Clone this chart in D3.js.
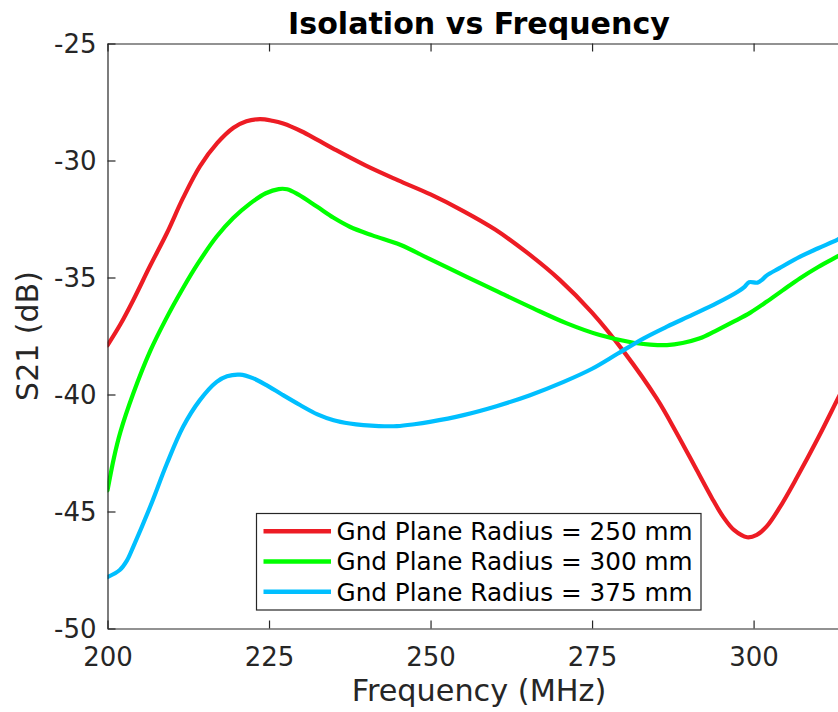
<!DOCTYPE html>
<html>
<head>
<meta charset="utf-8">
<script src="https://cdn.jsdelivr.net/npm/d3@7"></script>
<style>
  html, body { margin: 0; padding: 0; background: #fff; }
  svg { display: block; }
</style>
</head>
<body>
<svg id="chart" width="838" height="712"></svg>
<script>
// ---------------- data ----------------
const title = "Isolation vs Frequency";
const xLabel = "Frequency (MHz)";
const yLabel = "S21 (dB)";
const xTicks = [200, 225, 250, 275, 300];
const yTicks = [-50, -45, -40, -35, -30, -25];
const xTickLabels = ["200", "225", "250", "275", "300"];
const yTickLabels = ["-50", "-45", "-40", "-35", "-30", "-25"];
const seriesNames = ["Gnd Plane Radius = 250 mm", "Gnd Plane Radius = 300 mm", "Gnd Plane Radius = 375 mm"];
const seriesColors = ["#ED1C24", "#00FF00", "#00BFFF"];

const freq250 = [200, 202, 204, 206.6, 209.2, 211.7, 214.3, 217, 219.5, 221.5, 223.6, 225.5, 227.2, 230, 232.5, 235, 240, 245, 250, 255, 260, 265, 270, 275, 280, 285, 288, 291.2, 293.5, 295.3, 297, 299, 300.5, 302, 304, 306.7, 310, 313, 315];
const s21_250 = [-37.9, -37.0, -35.96, -34.5, -33.1, -31.6, -30.25, -29.25, -28.6, -28.32, -28.23, -28.3, -28.42, -28.75, -29.12, -29.5, -30.22, -30.85, -31.45, -32.15, -32.95, -33.95, -35.1, -36.5, -38.2, -40.17, -41.6, -43.23, -44.4, -45.23, -45.8, -46.1, -46.0, -45.65, -44.85, -43.55, -41.85, -40.2, -39.1];

const freq300 = [200, 201, 202, 204, 206.6, 209, 211.7, 214, 216.9, 219.5, 222.1, 224.5, 226.5, 227.8, 229.5, 232.4, 235, 237.5, 241, 245.3, 250, 255.6, 260, 265.9, 271, 276.2, 281.4, 284, 286.6, 289, 291.7, 294, 296.9, 299.5, 302, 304.5, 307.2, 310, 313, 315];
const s21_300 = [-44.1, -42.7, -41.6, -39.95, -38.15, -36.8, -35.45, -34.4, -33.25, -32.45, -31.83, -31.4, -31.22, -31.23, -31.45, -31.97, -32.45, -32.83, -33.2, -33.6, -34.23, -34.97, -35.55, -36.32, -36.95, -37.46, -37.79, -37.87, -37.89, -37.8, -37.6, -37.3, -36.89, -36.5, -36.04, -35.55, -35.03, -34.55, -34.1, -33.8];

const freq375 = [200, 201.9, 203, 204, 206.6, 209.2, 211.7, 214.3, 216.9, 218.5, 220.5, 222.5, 224.6, 227, 229.8, 232.5, 235, 237.5, 239.6, 242, 244.8, 247.5, 249.9, 255.1, 260.2, 265.4, 270.6, 275, 279, 283, 286.6, 290.5, 294.3, 297.6, 298.6, 299.3, 300.6, 301.3, 302, 304, 307.2, 310, 313, 315];
const s21_375 = [-47.8, -47.5, -47.1, -46.5, -44.8, -42.95, -41.38, -40.24, -39.46, -39.22, -39.15, -39.3, -39.6, -40.0, -40.45, -40.85, -41.1, -41.24, -41.31, -41.35, -41.35, -41.27, -41.17, -40.88, -40.5, -40.03, -39.46, -38.9, -38.25, -37.6, -37.1, -36.6, -36.1, -35.6, -35.4, -35.2, -35.22, -35.1, -34.92, -34.6, -34.11, -33.75, -33.38, -33.1];

const seriesFreqs = [freq250, freq300, freq375];
const seriesVals = [s21_250, s21_300, s21_375];

// ---------------- layout ----------------
const W = 838, H = 712;
const mLeft = 107.5, mRight = 850.5, mTop = 43.5, mBottom = 628.5;
const axisColor = "#262626";
const font = "'DejaVu Sans', sans-serif";

const svg = d3.select("#chart");
svg.append("rect").attr("width", W).attr("height", H).attr("fill", "#fff");

const x = d3.scaleLinear().domain([200, 315]).range([mLeft, mRight]);
const y = d3.scaleLinear().domain([-50, -25]).range([mBottom, mTop]);

svg.append("defs").append("clipPath").attr("id", "clip")
  .append("rect").attr("x", mLeft).attr("y", mTop).attr("width", mRight - mLeft).attr("height", mBottom - mTop);

// lines
const line = d3.line().x(d => x(d[0])).y(d => y(d[1])).curve(d3.curveCatmullRom.alpha(0.5));
const plot = svg.append("g").attr("clip-path", "url(#clip)");
seriesVals.forEach((vals, i) => {
  const pts = seriesFreqs[i].map((f, k) => [f, vals[k]]);
  plot.append("path").datum(pts)
    .attr("d", line)
    .attr("fill", "none")
    .attr("stroke", seriesColors[i])
    .attr("stroke-width", 4.2)
    .attr("stroke-linejoin", "round")
    .attr("stroke-linecap", "round");
});

// axes
const tickLen = 8;
const xAxisB = d3.axisBottom(x).tickValues(xTicks).tickSizeInner(-tickLen).tickSizeOuter(0)
  .tickFormat((d, i) => xTickLabels[i]);
const gx = svg.append("g").attr("transform", `translate(0,${mBottom})`).call(xAxisB);
gx.selectAll("text").attr("font-family", font).attr("font-size", 26).attr("fill", axisColor)
  .attr("dy", null).attr("y", 37);
const xAxisT = d3.axisTop(x).tickValues(xTicks).tickSizeInner(-tickLen).tickSizeOuter(0).tickFormat("");
const gxt = svg.append("g").attr("transform", `translate(0,${mTop})`).call(xAxisT);

const yAxisL = d3.axisLeft(y).tickValues(yTicks).tickSizeInner(-tickLen).tickSizeOuter(0)
  .tickFormat((d, i) => yTickLabels[i]);
const gy = svg.append("g").attr("transform", `translate(${mLeft},0)`).call(yAxisL);
gy.selectAll("text").attr("font-family", font).attr("font-size", 26).attr("fill", axisColor)
  .attr("x", -11).attr("dy", "0.36em");

[gx, gxt, gy].forEach(g => {
  g.selectAll(".domain").attr("stroke", axisColor).attr("stroke-width", 1.2);
  g.selectAll(".tick line").attr("stroke", axisColor).attr("stroke-width", 1.2);
});
// right spine (off-screen, completes box)
svg.append("line").attr("x1", mRight).attr("x2", mRight).attr("y1", mTop).attr("y2", mBottom)
  .attr("stroke", axisColor).attr("stroke-width", 1.2);

// title and labels
svg.append("text").attr("x", (mLeft + mRight) / 2).attr("y", 33.5)
  .attr("text-anchor", "middle").attr("font-family", font).attr("font-weight", "bold")
  .attr("font-size", 30.1).attr("fill", "#000").text(title);

svg.append("text").attr("x", (mLeft + mRight) / 2).attr("y", 701)
  .attr("text-anchor", "middle").attr("font-family", font)
  .attr("font-size", 30.3).attr("fill", axisColor).text(xLabel);

svg.append("text").attr("transform", `translate(37.5,${(mTop + mBottom) / 2}) rotate(-90)`)
  .attr("text-anchor", "middle").attr("font-family", font)
  .attr("font-size", 30).attr("fill", axisColor).text(yLabel);

// legend
const lg = svg.append("g");
const lgX = 256.5, lgY = 513.5, lgW = 444.5, lgH = 96.5;
lg.append("rect").attr("x", lgX).attr("y", lgY).attr("width", lgW).attr("height", lgH)
  .attr("fill", "#fff").attr("stroke", axisColor).attr("stroke-width", 1.2);
const rowY = [531.3, 561.5, 591.7];
seriesNames.forEach((name, i) => {
  lg.append("line").attr("x1", 263.5).attr("x2", 331).attr("y1", rowY[i]).attr("y2", rowY[i])
    .attr("stroke", seriesColors[i]).attr("stroke-width", 4.5);
  lg.append("text").attr("x", 336.5).attr("y", rowY[i] + 8.8)
    .attr("font-family", font).attr("font-size", 24.7).attr("fill", "#000").text(name);
});
</script>
</body>
</html>
